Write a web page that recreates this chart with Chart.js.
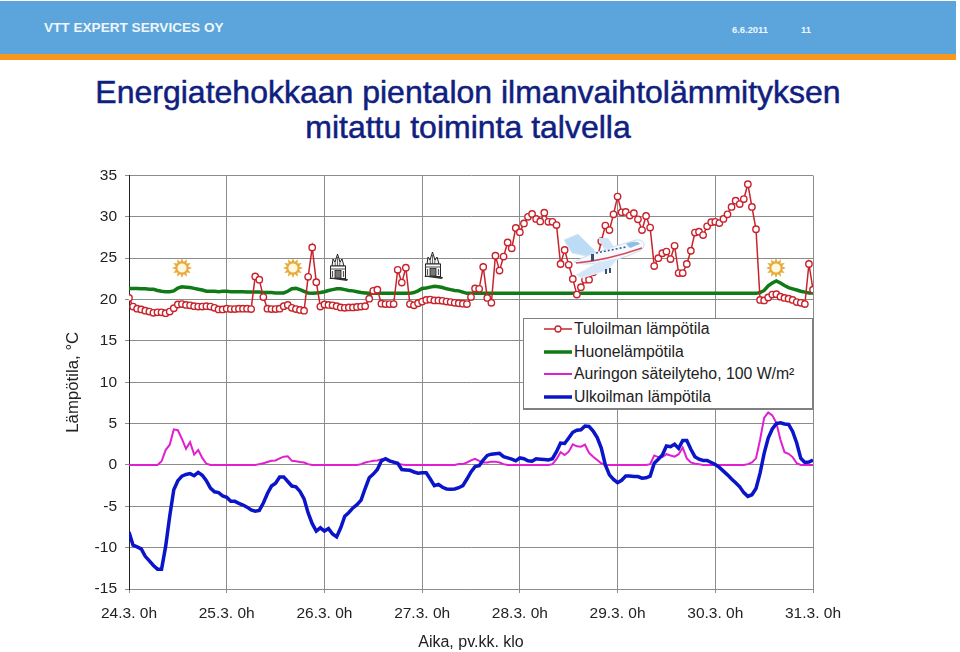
<!DOCTYPE html>
<html lang="fi">
<head>
<meta charset="utf-8">
<title>Energiatehokkaan pientalon ilmanvaihtolämmitys</title>
<script src="https://cdn.jsdelivr.net/npm/chart.js@4"></script>
<style>
    html, body { margin: 0; padding: 0; background: #fff; overflow: hidden; }
    body { width: 960px; height: 652px; position: relative; font-family: "Liberation Sans", Arial, sans-serif; }
    #chart { position: absolute; left: 0; top: 0; }
    .band { position: absolute; left: 0; top: 1px; width: 956px; height: 53px; background: #5ba5dc; }
    .stripe { position: absolute; left: 0; top: 54px; width: 956px; height: 6px; background: #f7981d; }
    .band span { position: absolute; color: #eef6fb; font-weight: bold; white-space: nowrap; }
    h1 { position: absolute; left: 0; top: 75px; width: 936px; margin: 0; text-align: center; font-size: 32px; line-height: 35px; font-weight: normal; color: #10207f; -webkit-text-stroke: 0.5px #10207f; }
    #legend { position: absolute; left: 523px; top: 318px; width: 288px; height: 89px; background: #fff; border: 1px solid #808080; border-right-width: 2px; border-bottom-width: 2px; }
    .item { position: absolute; left: 19px; height: 22px; font-size: 15.8px; line-height: 22px; color: #222; white-space: nowrap; }
    .item svg { vertical-align: top; margin-right: 1px; }
    .deco { position: absolute; }
</style>
</head>
<body>

<div class="band">
    <span style="left:44px;top:19px;font-size:13.6px">VTT EXPERT SERVICES OY</span>
    <span style="left:732px;top:23px;font-size:9.4px">6.6.2011</span>
    <span style="left:801px;top:23px;font-size:9.4px">11</span>
</div>
<div class="stripe"></div>
<h1>Energiatehokkaan pientalon ilmanvaihtolämmityksen<br>mitattu toiminta talvella</h1>

<canvas id="chart" width="960" height="652"></canvas>
<div id="legend"></div>

<script>
/* =========================================================
   1. DATA (hourly readings, 24.3. 0h - 31.3. 0h)
========================================================= */

const dayLabels = ['24.3. 0h', '25.3. 0h', '26.3. 0h', '27.3. 0h', '28.3. 0h', '29.3. 0h', '30.3. 0h', '31.3. 0h'];
const yTicks = [-15, -10, -5, 0, 5, 10, 15, 20, 25, 30, 35];

const tuloilma = [
    20.2, 19.15, 18.9, 18.8, 18.65, 18.55, 18.4, 18.45, 18.45, 18.35, 18.55, 18.95, 19.4, 19.45, 19.35, 19.3, 19.2, 19.15, 19.15, 19.2, 19.15, 19.0, 18.8, 18.8,
    18.9, 18.85, 18.85, 18.9, 18.9, 18.9, 18.85, 22.8, 22.4, 20.3, 18.9, 18.85, 18.85, 18.9, 19.2, 19.35, 19.0, 18.85, 18.75, 18.65, 22.75, 26.3, 22.1, 19.15,
    19.4, 19.35, 19.3, 19.2, 19.05, 19.0, 19.05, 19.05, 19.1, 19.15, 19.2, 20.1, 21.05, 21.2, 19.5, 19.45, 19.45, 19.45, 23.6, 22.05, 23.85, 19.45, 19.3, 19.55,
    19.75, 19.95, 20, 19.9, 19.9, 19.85, 19.75, 19.7, 19.6, 19.55, 19.5, 19.45, 20.3, 21.35, 21.3, 23.95, 20.2, 19.6, 25.3, 23.5, 25.2, 26.9, 26.2, 28.65,
    28.15, 29.2, 30, 30.35, 29.75, 29.45, 30.5, 29.4, 29.4, 29, 24.3, 26, 24.2, 22.5, 20.6, 21.5, 22.4, 22.4, 23.3, 24.9, 27.05, 28.95, 28.4, 30.3,
    32.45, 30.55, 30.6, 30.15, 30.45, 29.7, 28.4, 30.1, 28.7, 24.05, 25, 25.6, 25.8, 24.9, 26.5, 23.2, 23.2, 24.3, 25.9, 28.1, 28.2, 27.8, 28.85, 29.35,
    29.4, 29.25, 29.75, 30.3, 31.2, 31.95, 31.55, 32.15, 33.95, 31.2, 28.5, 19.95, 19.9, 20.25, 20.6, 20.65, 20.35, 20.2, 20.1, 19.95, 19.7, 19.6, 19.45, 24.3, 21.2
];

const huone = [
    21.35, 21.35, 21.35, 21.3, 21.3, 21.25, 21.25, 21.1, 21.0, 20.95, 20.95, 21.05, 21.4, 21.55, 21.5, 21.45, 21.35, 21.25, 21.15, 21.0, 21.0, 21.0, 20.95, 21.0,
    21.0, 20.95, 20.95, 20.95, 20.95, 20.9, 20.9, 20.9, 20.9, 20.85, 20.85, 20.85, 20.8, 20.8, 20.8, 21.0, 21.3, 21.35, 21.2, 21.0, 20.8, 20.75, 20.8, 20.85,
    20.95, 21.1, 21.2, 21.3, 21.3, 21.2, 21.1, 21.05, 20.95, 20.85, 20.8, 20.75, 20.75, 20.75, 20.75, 20.75, 20.75, 20.75, 20.75, 20.75, 20.75, 20.75, 20.85, 21.05,
    21.33, 21.4, 21.5, 21.6, 21.55, 21.45, 21.3, 21.2, 21.1, 21.05, 20.9, 20.75, 20.75, 20.75, 20.75, 20.75, 20.75, 20.75, 20.75, 20.75, 20.75, 20.75, 20.75, 20.75,
    20.75, 20.75, 20.75, 20.75, 20.75, 20.75, 20.75, 20.75, 20.75, 20.75, 20.75, 20.75, 20.75, 20.75, 20.75, 20.75, 20.75, 20.75, 20.75, 20.75, 20.75, 20.75, 20.75, 20.75,
    20.75, 20.75, 20.75, 20.75, 20.75, 20.75, 20.75, 20.75, 20.75, 20.75, 20.75, 20.75, 20.75, 20.75, 20.75, 20.75, 20.75, 20.75, 20.75, 20.75, 20.75, 20.75, 20.75, 20.75,
    20.75, 20.75, 20.75, 20.75, 20.75, 20.75, 20.75, 20.75, 20.75, 20.75, 20.75, 20.85, 21.1, 21.65, 22, 22.25, 22, 21.7, 21.45, 21.3, 21.15, 21, 20.9, 20.8, 20.8
];

const aurinko = [
    0, 0, 0, 0, 0, 0, 0, 0, 0.45, 1.8, 2.45, 4.3, 4.2, 3.15, 1.95, 2.75, 1.25, 1.8, 0.85, 0.15, 0, 0, 0, 0,
    0, 0, 0, 0, 0, 0, 0, 0, 0.1, 0.2, 0.35, 0.5, 0.55, 0.8, 1, 1.05, 0.5, 0.45, 0.35, 0.3, 0.1, 0, 0, 0,
    0, 0, 0, 0, 0, 0, 0, 0, 0, 0.1, 0.3, 0.4, 0.5, 0.55, 0.7, 0.65, 0.4, 0.3, 0.15, 0.05, 0, 0, 0, 0,
    0, 0, 0, 0, 0, 0, 0, 0, 0, 0.1, 0.1, 0.3, 0.55, 0.75, 0.5, 0.3, 0.3, 0.4, 0.4, 0.3, 0.1, 0, 0, 0,
    0, 0, 0, 0, 0, 0, 0, 0, 0.1, 0.7, 1.55, 1.2, 1.6, 2.5, 2.25, 2.2, 2.45, 1.45, 1, 0.6, 0.2, 0, 0, 0,
    0, 0, 0, 0, 0, 0, 0, 0, 0.1, 1.15, 0.95, 0.95, 1.3, 1.15, 1, 1.3, 2.1, 0.8, 0.3, 0.15, 0.1, 0, 0, 0,
    0, 0, 0, 0, 0, 0, 0, 0, 0.1, 0.3, 0.8, 3.05, 5.7, 6.35, 6, 5.1, 3.05, 1.55, 1.35, 0.95, 0.2, 0, 0, 0, 0
];

const ulkoilma = [
    -8.1, -9.7, -9.9, -10.15, -11.05, -11.6, -12.15, -12.6, -12.6, -9.85, -6.2, -3, -1.9, -1.35, -1.15, -1.05, -1.3, -0.9, -1.25, -1.9, -2.8, -3.25, -3.35, -3.75,
    -3.9, -4.4, -4.4, -4.65, -4.85, -5.1, -5.45, -5.6, -5.5, -4.6, -3.45, -2.55, -2.2, -1.45, -1.45, -2, -2.55, -2.65, -3.2, -4.1, -5.8, -7.1, -8, -7.6,
    -8, -7.7, -8.35, -8.7, -7.6, -6.2, -5.75, -5.2, -4.8, -4.25, -2.85, -1.55, -1.1, -0.55, 0.5, 0.75, 0.5, 0.35, 0.2, -0.55, -0.6, -0.65, -0.85, -1,
    -0.95, -0.95, -1.7, -2.5, -2.35, -2.7, -2.9, -2.95, -2.9, -2.75, -2.5, -1.7, -0.85, -0.2, -0.1, 0.6, 1.15, 1.3, 1.35, 1.4, 1, 0.85, 0.7, 0.5,
    0.85, 0.75, 0.5, 0.45, 0.75, 0.7, 0.65, 0.6, 0.75, 1.6, 2.65, 2.6, 3.25, 3.95, 4.2, 4.25, 4.7, 4.65, 4.1, 3.3, 2.05, 0, -1.2, -1.75,
    -2.15, -1.85, -1.35, -1.35, -1.4, -1.4, -1.6, -1.55, -1.35, 0.2, 0.7, 1.2, 2.3, 2.2, 2.5, 2, 2.95, 2.95, 1.9, 1, 0.7, 0.55, 0.55, 0.3,
    0.05, -0.3, -0.75, -1.2, -1.7, -2.15, -2.65, -3.35, -3.8, -3.6, -2.85, -1, 1.4, 3.25, 4.35, 5, 5.1, 4.95, 4.9, 4.05, 2.65, 0.8, 0.3, 0.35, 0.6
];

const seriesNames = ['Tuloilman lämpötila', 'Huonelämpötila', 'Auringon säteilyteho, 100 W/m²', 'Ulkoilman lämpötila'];
const seriesColors = ['#c8232c', '#0f7a16', '#e01fd0', '#0a14c8'];

/* =========================================================
   2. CHART
========================================================= */

function toPoints(values) {
    return values.map((y, x) => ({ x, y }));
}

function renderChart() {

    const font = { family: '"Liberation Sans", Arial, sans-serif', size: 15.5 };
    const titleFont = { family: '"Liberation Sans", Arial, sans-serif', size: 16 };

    new Chart(document.getElementById('chart'), {
        type: 'line',
        data: {
            datasets: [
                { label: seriesNames[0], data: toPoints(tuloilma), borderColor: seriesColors[0], borderWidth: 1.5, pointRadius: 3.2, pointBorderWidth: 1.4, pointBackgroundColor: '#fff', pointBorderColor: seriesColors[0], order: 0 },
                { label: seriesNames[1], data: toPoints(huone), borderColor: seriesColors[1], borderWidth: 3.5, pointRadius: 0, order: 2 },
                { label: seriesNames[2], data: toPoints(aurinko), borderColor: seriesColors[2], borderWidth: 2, pointRadius: 0, order: 3 },
                { label: seriesNames[3], data: toPoints(ulkoilma), borderColor: seriesColors[3], borderWidth: 3.5, pointRadius: 0, order: 1 }
            ]
        },
        options: {
            responsive: false,
            animation: false,
            layout: { padding: { left: 63, right: 147, top: 175.5, bottom: 0 } },
            plugins: { legend: { display: false }, title: { display: false }, tooltip: { enabled: false } },
            scales: {
                x: {
                    type: 'linear',
                    min: 0,
                    max: 168,
                    afterFit: scale => { scale.height = 63; },
                    afterBuildTicks: scale => { scale.ticks = dayLabels.map((_, i) => ({ value: i * 24 })); },
                    ticks: {
                        font,
                        color: '#222',
                        autoSkip: false,
                        maxRotation: 0,
                        padding: 11,
                        callback: value => dayLabels[value / 24]
                    },
                    grid: { color: '#8c8c8c', tickLength: 4 },
                    border: { color: '#8c8c8c' },
                    title: { display: true, text: 'Aika, pv.kk. klo', font: titleFont, color: '#222', padding: { top: 8, bottom: 0 } }
                },
                y: {
                    min: yTicks[0],
                    max: yTicks[yTicks.length - 1],
                    afterFit: scale => { scale.width = 66; },
                    afterBuildTicks: scale => { scale.ticks = yTicks.map(value => ({ value })); },
                    ticks: { font, color: '#222', padding: 8 },
                    grid: { color: '#8c8c8c', tickLength: 4 },
                    border: { color: '#222' },
                    title: { display: true, text: 'Lämpötila, °C', font: { ...titleFont, size: 16.8 }, color: '#222', padding: 0 }
                }
            }
        }
    });
}

/* =========================================================
   3. LEGEND (html, sits on top of the plot like the original)
========================================================= */

function renderLegend() {

    const legend = document.getElementById('legend');
    const widths = [1.5, 3.5, 2, 3.5];

    seriesNames.forEach((name, i) => {
        const marker = i === 0
            ? `<circle cx="15" cy="11" r="3" fill="#fff" stroke="${seriesColors[0]}" stroke-width="1.3"/>`
            : '';
        const item = document.createElement('div');
        item.className = 'item';
        item.style.top = (i * 22.7 - 1) + 'px';
        item.innerHTML =
            `<svg width="30" height="22"><line x1="1" x2="29" y1="11" y2="11" stroke="${seriesColors[i]}" stroke-width="${widths[i]}"/>${marker}</svg>${name}`;
        legend.appendChild(item);
    });
}

/* =========================================================
   4. PICTOGRAMS
========================================================= */

function addDeco(left, top, width, height, body) {
    const div = document.createElement('div');
    div.className = 'deco';
    div.style.left = left + 'px';
    div.style.top = top + 'px';
    div.innerHTML = `<svg width="${width}" height="${height}" viewBox="0 0 ${width} ${height}">${body}</svg>`;
    document.body.appendChild(div);
}

function addSun(cx, cy) {
    let rays = '';
    for (let a = 0; a < 360; a += 30) {
        rays += `<path d="M10 0 L12 5 L8 5 Z" fill="#e8aa3a" transform="rotate(${a} 10 10)"/>`;
    }
    addDeco(cx - 10, cy - 10, 20, 20, rays + '<circle cx="10" cy="10" r="5.5" fill="#fff8e0" stroke="#e8aa3a" stroke-width="1.8"/>');
}

function addHouse(cx, cy) {
    addDeco(cx - 11, cy - 16, 22, 32,
        '<path d="M5 14 L6 7 L8 10 L10.5 2 L13 10 L15 7 L17 14 Z" fill="#f4f4f4" stroke="#222" stroke-width="1"/>' +
        '<path d="M8 10 L8.5 14 M13 10 L12.5 14 M10.5 5 L10.5 14" stroke="#555" stroke-width="0.9"/>' +
        '<rect x="3.5" y="14" width="15" height="12.5" fill="#fff" stroke="#222" stroke-width="1"/>' +
        '<path d="M3 17 h16" stroke="#444" stroke-width="1"/>' +
        '<rect x="8" y="18.5" width="6" height="7.5" fill="#777" stroke="#222" stroke-width="0.8"/>' +
        '<path d="M5.5 19 v6 M16.5 19 v6" stroke="#555" stroke-width="1.2"/>' +
        '<path d="M2 26.5 L20 29 L21 27 L4 25.5 Z" fill="#333"/>');
}

function addPlane() {
    addDeco(550, 225, 110, 60,
        '<path d="M14 15 L28 9 L46 27 L36 31 L22 28 Z" fill="#bcdcf5" stroke="#d6e9f8"/>' +
        '<path d="M48 13 L58 13 L64 22 L54 24 Z" fill="#cfe4f7"/>' +
        '<path d="M24 37 C40 28 70 20 86 15 C94 14 97 20 91 25 C75 34 50 39 34 39 Z" fill="#f6fafd" stroke="#c8def2"/>' +
        '<path d="M26 38 C50 36 72 30 92 23" fill="none" stroke="#d9485a" stroke-width="1.4"/>' +
        '<path d="M46 28 L76 22" stroke="#3b5f95" stroke-width="1.6" stroke-dasharray="2 2"/>' +
        '<path d="M76 19 C82 16 88 16 90 19 L80 23 Z" fill="#8fbde6"/>' +
        '<path d="M48 37 L68 33 L58 45 L32 53 L26 50 Z" fill="#d4e7f8" stroke="#e6f1fb"/>' +
        '<rect x="41" y="29" width="3" height="7" fill="#36506f"/>' +
        '<rect x="55" y="44" width="2" height="5" fill="#36506f"/><rect x="59" y="43" width="2" height="5" fill="#36506f"/>');
}

/* =========================================================
   5. START
========================================================= */

renderChart();
renderLegend();

addSun(182, 268);
addSun(293, 268);
addSun(776, 268);
addHouse(338, 268);
addHouse(433, 266);
addPlane();
</script>
</body>
</html>
